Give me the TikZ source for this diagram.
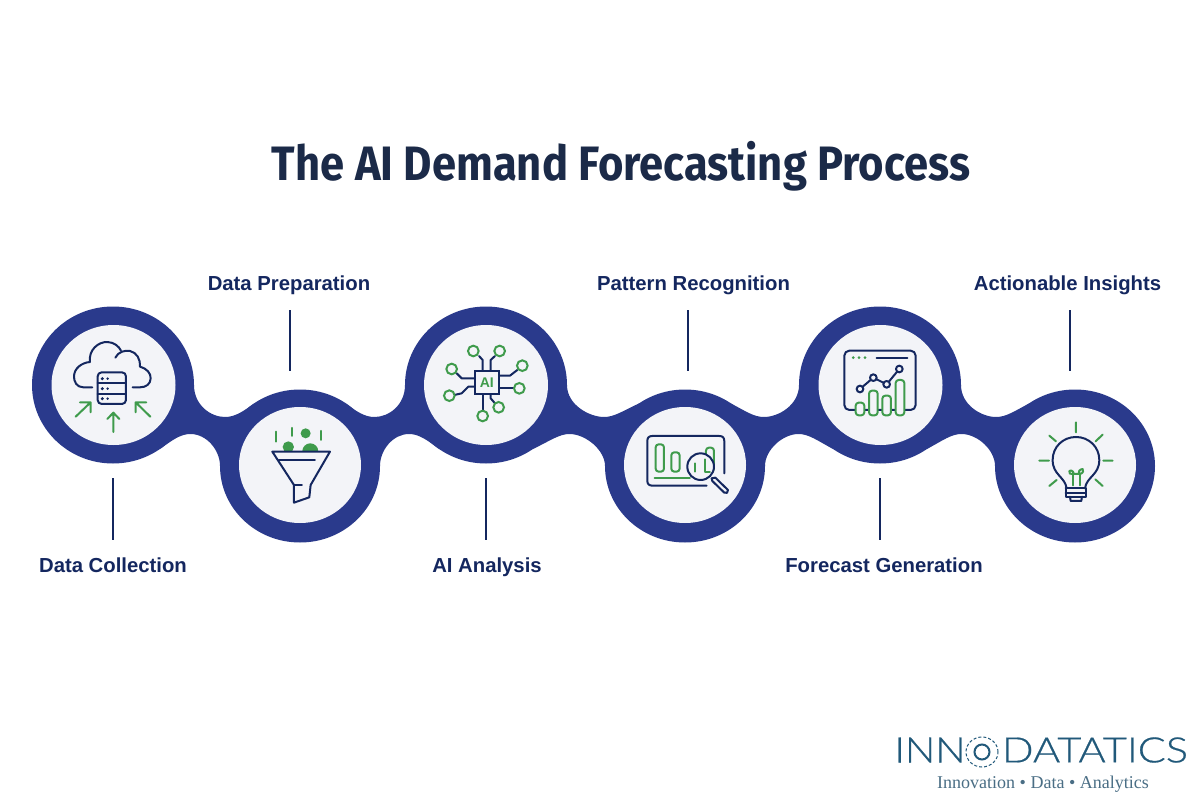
\documentclass[tikz,border=0pt]{standalone}
\usepackage{fontspec}
\usepackage{graphicx}
\usetikzlibrary{shapes.geometric}
\setmainfont{Liberation Sans}
\newfontfamily\logofont{Lato Light}[FakeBold=0.6]
\newfontfamily\subfont{Liberation Serif}
\newfontfamily\titlefont{Fira Sans}
\definecolor{band}{HTML}{2A3A8C}
\definecolor{inner}{HTML}{F3F4F8}
\definecolor{navy}{HTML}{14275F}
\definecolor{leaf}{HTML}{3F9B4C}
\definecolor{titlec}{HTML}{1B2A48}
\definecolor{logoc}{HTML}{21597A}
\definecolor{subc}{HTML}{4A6E85}
\tikzset{
  outerup/.style={ellipse,fill=band,inner sep=0,minimum width=162pt,minimum height=157pt},
  outerdown/.style={ellipse,fill=band,inner sep=0,minimum width=160pt,minimum height=153pt},
  innerup/.style={ellipse,fill=inner,inner sep=0,minimum width=124pt,minimum height=120pt},
  innerdown/.style={ellipse,fill=inner,inner sep=0,minimum width=122pt,minimum height=116pt},
  lab/.style={font=\fontsize{20.3}{24}\selectfont\bfseries,text=navy,inner sep=0,anchor=base},
  tick/.style={draw=navy,line width=1.9pt},
  ink/.style={draw=navy,line width=2pt,line cap=round,line join=round},
  sprout/.style={draw=leaf,line width=2pt,line cap=round,line join=round},
  zoomed/.style={x=0.3333pt,y=-0.3333pt}
}
\newcommand{\bandlink}[3]{% upper centre, lower centre, direction
  \pgfmathsetmacro{\Mm}{(#1+#2)/2}
  \pgfmathsetmacro{\pa}{#1+81*#3}
  \pgfmathsetmacro{\pb}{\Mm+4*#3}
  \pgfmathsetmacro{\pc}{\Mm+18.5*#3}
  \pgfmathsetmacro{\pd}{\Mm+29*#3}
  \pgfmathsetmacro{\pe}{\Mm+37*#3}
  \pgfmathsetmacro{\pf}{#2-45*#3}
  \pgfmathsetmacro{\pg}{#2-80*#3}
  \pgfmathsetmacro{\ph}{\Mm+0*#3}
  \pgfmathsetmacro{\pi}{\Mm-16*#3}
  \pgfmathsetmacro{\pj}{\Mm-26*#3}
  \pgfmathsetmacro{\pk}{\Mm-34*#3}
  \pgfmathsetmacro{\pl}{#1+47*#3}
  \fill[band] (\pa,385) .. controls (\pa,405) and (\pb,417) .. (\pc,417)
    .. controls (\pd,417) and (\pe,411) .. (\pf,403) -- (\pg,466)
    .. controls (\pg,450) and (\ph,434) .. (\pi,434)
    .. controls (\pj,434) and (\pk,440) .. (\pl,449) -- cycle;
}
\begin{document}
\begin{tikzpicture}[x=1pt,y=-1pt]
\useasboundingbox (0,0) rectangle (1200,800);
\fill[white] (0,0) rectangle (1200,800);

\node[font=\titlefont\fontsize{48.3}{50}\selectfont\bfseries,text=titlec,inner sep=0,anchor=base] (title) at (621,180) {\resizebox{698pt}{\height}{The AI Demand Forecasting Process}};

% band
\bandlink{113}{300}{1}
\bandlink{486}{300}{-1}
\bandlink{486}{685}{1}
\bandlink{880}{685}{-1}
\bandlink{880}{1075}{1}
\node[outerup] (o1) at (113,385) {};
\node[outerdown] (o2) at (300,466) {};
\node[outerup] (o3) at (486,385) {};
\node[outerdown] (o4) at (685,466) {};
\node[outerup] (o5) at (880,385) {};
\node[outerdown] (o6) at (1075,466) {};
\node[innerup] (i1) at (113.5,385) {};
\node[innerdown] (i2) at (300,465) {};
\node[innerup] (i3) at (486,385) {};
\node[innerdown] (i4) at (685,465) {};
\node[innerup] (i5) at (880.5,385) {};
\node[innerdown] (i6) at (1075,465) {};

% labels and ticks
\node[lab] (l1) at (113,572.3) {Data Collection};
\node[lab] (l2) at (289,290.7) {Data Preparation};
\node[lab] (l3) at (487,572.3) {AI Analysis};
\node[lab] (l4) at (693.5,290.7) {Pattern Recognition};
\node[lab] (l5) at (884,572.3) {Forecast Generation};
\node[lab] (l6) at (1067.5,290.7) {Actionable Insights};
\coordinate (t1a) at (113,478); \coordinate (t1b) at (113,540);
\coordinate (t2a) at (290,310); \coordinate (t2b) at (290,371);
\coordinate (t3a) at (486,478); \coordinate (t3b) at (486,540);
\coordinate (t4a) at (688,310); \coordinate (t4b) at (688,371);
\coordinate (t5a) at (880,478); \coordinate (t5b) at (880,540);
\coordinate (t6a) at (1070,310); \coordinate (t6b) at (1070,371);
\foreach \k in {1,...,6} \draw[tick] (t\k a) -- (t\k b);

% icon 1: cloud and server
\begin{scope}[shift={(20,300)},zoomed]
\draw[ink] (217,262) -- (190,262) .. controls (170,262) and (162,245) .. (162,230)
  .. controls (162,205) and (185,188) .. (210,186)
  .. controls (205,150) and (235,125) .. (262,126)
  .. controls (282,127) and (296,138) .. (303,152);
\draw[ink] (286,173) .. controls (295,155) and (315,150) .. (330,153)
  .. controls (350,157) and (362,178) .. (360,200)
  .. controls (380,205) and (393,220) .. (392,235)
  .. controls (392,252) and (378,262) .. (360,262) -- (338,262);
\draw[ink,rounded corners=4pt] (233,217) rectangle (318,312);
\draw[ink] (233,249) -- (318,249) (233,281) -- (318,281);
\foreach \yy in {236,266,296} {
  \fill[navy] (247,\yy) circle (5);
  \fill[navy] (263,\yy) circle (4);
}
\draw[sprout] (167,350) -- (212,307) (180,307) -- (212,307) -- (212,337);
\draw[sprout] (280,396) -- (280,338) (262,357) -- (280,338) -- (298,357);
\draw[sprout] (391,350) -- (347,307) (379,307) -- (347,307) -- (347,337);
\end{scope}

% icon 2: funnel
\begin{scope}[shift={(20,300)},zoomed]
\fill[leaf] (857,400) circle (15);
\begin{scope}
\clip (740,350) rectangle (950,452);
\fill[leaf] (805,441) circle (17);
\fill[leaf] (871,454) circle (24);
\end{scope}
\draw[sprout] (769,395) -- (769,425) (815,384) -- (815,408) (904,393) -- (904,420);
\draw[ink] (757,455) -- (930,455) -- (872,555) -- (868,592) -- (822,608) -- (822,555) -- cycle;
\draw[ink] (777,481) -- (885,481) (822,555) -- (846,555);
\end{scope}

% icon 3: AI chip
\begin{scope}[shift={(400,300)},zoomed]
\draw[ink] (237,168) -- (248,180) -- (248,213);
\draw[ink] (285,168) -- (272,180) -- (272,213);
\draw[ink] (170,220) -- (185,235) -- (224,235);
\draw[ink] (352,210) -- (330,227) -- (297,227);
\draw[ink] (163,285) -- (185,280) -- (205,260) -- (224,260);
\draw[ink] (342,265) -- (297,265);
\draw[ink] (285,310) -- (272,295) -- (272,282);
\draw[ink] (248,332) -- (248,282);
\foreach \cx/\cy in {220/153,299/153,155/207,367/197,148/287,358/265,296/322,248/348}
  \draw[draw=leaf,line width=2pt,fill=inner] (\cx,\cy) circle (16);
\node[draw=navy,line width=2pt,fill=inner,minimum width=24pt,minimum height=23pt,inner sep=0,
  font=\fontsize{14}{14}\selectfont\bfseries,text=leaf] (chip) at (260.5,247.5) {AI};
\end{scope}

% icon 4: chart and magnifier
\begin{scope}[shift={(400,300)},zoomed]
\draw[ink] (920,557) -- (757,557) .. controls (747,557) and (742,552) .. (742,542) -- (742,423)
  .. controls (742,413) and (747,408) .. (757,408) -- (958,408)
  .. controls (968,408) and (973,413) .. (973,423) -- (973,520);
\draw[sprout,rounded corners=3pt] (767,433) rectangle (792,515);
\draw[sprout,rounded corners=3pt] (814,457) rectangle (839,515);
\draw[sprout,rounded corners=3pt] (918,443) rectangle (942,515);
\draw[sprout] (764,535) -- (870,535);
\draw[ink,fill=inner] (902,500) circle (40);
\draw[sprout] (885,490) -- (885,515) (915,478) -- (915,515) -- (930,515);
\draw[ink] (935,535) -- (946,533) -- (984,570) .. controls (986,578) and (978,582) .. (973,578) -- (937,543) -- cycle;
\end{scope}

% icon 5: dashboard
\begin{scope}[shift={(790,300)},zoomed]
\draw[ink,rounded corners=5pt] (163,152) rectangle (377,330);
\foreach \dx in {190,207,225} \fill[leaf] (\dx,173) circle (4.5);
\draw[ink] (260,173) -- (352,173);
\foreach \bx/\by in {197/308,237/272,277/287,317/240}
  \draw[sprout,fill=inner,rounded corners=3pt] (\bx,\by) rectangle ++(26,38+308-\by);
\draw[ink] (210,267) -- (250,233) -- (290,253) -- (328,207);
\foreach \cx/\cy in {210/267,250/233,290/253,328/207}
  \draw[ink,fill=inner] (\cx,\cy) circle (10);
\end{scope}

% icon 6: bulb
\begin{scope}[shift={(790,300)},zoomed]
\draw[ink] (830,565) .. controls (825,530) and (788,525) .. (788,480)
  .. controls (788,440) and (820,411) .. (858,411)
  .. controls (896,411) and (928,440) .. (928,480)
  .. controls (928,525) and (890,530) .. (885,565);
\draw[ink] (827,565) -- (888,565) (827,580) -- (888,580) (827,565) -- (827,590) -- (888,590) -- (888,565);
\draw[ink] (840,590) -- (842,603) -- (874,603) -- (876,590);
\draw[sprout] (848,556) -- (848,522) (870,556) -- (870,522);
\draw[sprout] (848,522) .. controls (855,518) and (845,508) .. (838,513) .. controls (835,520) and (842,524) .. (848,522) -- (870,522) .. controls (880,520) and (882,510) .. (878,507) .. controls (870,508) and (862,515) .. (870,522);
\draw[sprout] (858,367) -- (858,397) (778,407) -- (798,424) (938,404) -- (917,424)
  (748,482) -- (777,482) (940,482) -- (968,482) (778,558) -- (800,540) (938,558) -- (916,538);
\end{scope}

% logo
\node[inner sep=0,text=logoc] (inn) at (930,750) {\resizebox{71pt}{25pt}{\logofont INN}};
\node[inner sep=0,text=logoc] (dat) at (1095,750) {\resizebox{186pt}{25pt}{\logofont DATATICS}};
\node[ellipse,draw=logoc,densely dashed,line width=1pt,minimum width=32pt,minimum height=30pt,inner sep=0] (gear) at (982,752) {};
\node[circle,draw=logoc,line width=2pt,minimum size=15pt,inner sep=0] (gearhub) at (982,752) {};
\node[inner sep=0,text=subc,font=\subfont\fontsize{18}{20}\selectfont] (tag) at (1043,784) {Innovation • Data • Analytics};
\end{tikzpicture}
\end{document}
